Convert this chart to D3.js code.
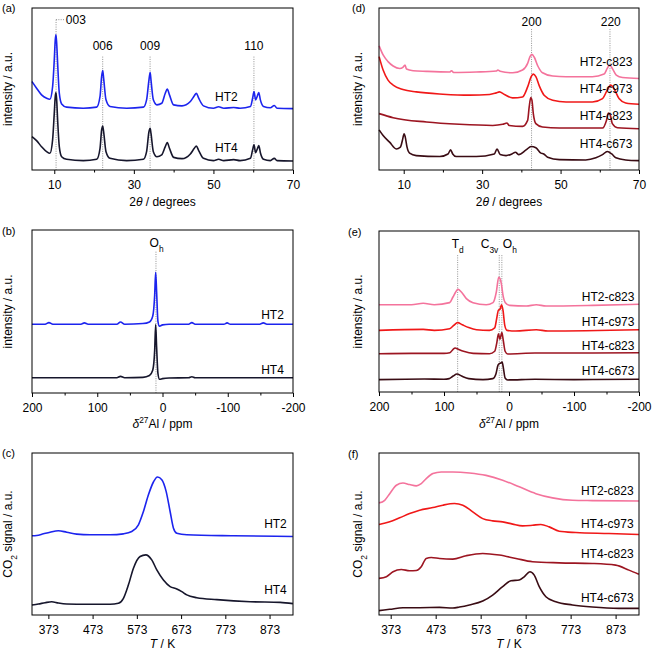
<!DOCTYPE html>
<html>
<head>
<meta charset="utf-8">
<script src="https://cdn.jsdelivr.net/npm/d3@7"></script>
<style>
body { margin: 0; background: #fff; }
text { font-family: "Liberation Sans", Arial, sans-serif; }
</style>
</head>
<body>
<svg id="fig" width="656" height="654"></svg>
<script>
// ---- data (y in arbitrary units, 0 = frame bottom, 100 = frame top)

// (a) XRD of the hydrotalcites, 2theta / degrees
var xrdHT2 = [[4.4,54.6],[5.55,50.5],[6.8,46.4],[8.07,44.3],[8.9,43.7],[9.58,51.5],[10.0,68.0],[10.25,80.4],[10.42,83.5],[10.6,78.4],[10.84,66.0],[11.26,47.4],[11.85,40.8],[13.1,38.8],[17.3,38.1],[20.66,38.8],[21.5,45.4],[21.9,57.7],[22.17,61.4],[22.4,56.7],[23.0,43.3],[24.0,39.2],[28.2,38.1],[32.4,38.8],[33.2,43.3],[33.8,55.7],[34.1,60.2],[34.3,55.7],[34.9,43.3],[35.8,40.2],[37.0,41.2],[37.9,47.4],[38.4,49.9],[38.95,46.4],[40.0,40.2],[42.1,39.6],[44.2,42.3],[45.2,45.8],[45.7,47.4],[46.3,44.3],[47.5,39.6],[50.0,38.1],[51.3,39.0],[52.6,38.1],[55.1,38.6],[56.7,38.1],[59.3,39.2],[59.85,44.3],[60.2,48.5],[60.6,43.3],[61.0,45.4],[61.4,47.8],[61.8,43.3],[62.6,39.2],[64.3,38.4],[65.3,39.8],[66.0,38.1],[70,37.9]];
var xrdHT4 = [[4.4,20.6],[5.55,18.1],[6.8,14.4],[8.07,11.3],[8.9,10.3],[9.58,18.6],[10.0,35.1],[10.25,45.4],[10.42,47.8],[10.6,43.3],[10.84,30.9],[11.26,14.4],[11.85,8.2],[13.1,6.6],[17.3,5.8],[20.66,6.6],[21.5,13.4],[21.9,24.7],[22.17,27.2],[22.4,23.7],[23.0,11.3],[24.0,7.2],[28.2,5.8],[32.4,6.6],[33.2,11.3],[33.8,23.7],[34.1,25.8],[34.3,22.7],[34.9,11.3],[35.8,8.2],[37.0,9.3],[37.9,14.4],[38.4,16.9],[38.95,13.4],[40.0,7.8],[42.1,7.0],[44.2,9.9],[45.2,13.4],[45.7,14.8],[46.3,12.0],[47.5,7.2],[50.0,5.8],[51.3,6.6],[52.6,5.8],[55.1,6.4],[56.7,5.8],[59.3,7.2],[59.85,12.4],[60.2,15.5],[60.6,10.7],[61.0,12.8],[61.4,15.1],[61.8,10.7],[62.6,6.6],[64.3,5.8],[65.3,7.2],[66.0,5.8],[70,5.6]];
var xrdRefl = ["003", "006", "009", "110"];
var xrdReflPos = [10.45, 22.17, 34.08, 60.18];

// (b) 27Al NMR of the hydrotalcites, ppm
var nmrHT2 = [[200,42.2],[180,42.2],[174,43.2],[168,42.2],[125,42.2],[119.7,43.0],[114,42.2],[70,42.2],[64.4,43.6],[58,42.2],[30,42.6],[20,43.6],[15,47.1],[12,60],[10.5,74.0],[9,62],[7,44],[4.6,41.0],[0,41.8],[-10,42.2],[-40,42.2],[-45,43.2],[-50,42.2],[-94,42.2],[-99,43.0],[-104,42.2],[-149,42.2],[-154.5,43.0],[-160,42.2],[-200,42.2]];
var nmrHT4 = [[200,9.4],[70,9.4],[64.4,10.2],[58,9.4],[30,9.6],[20,10.7],[15,13.9],[12,26],[10.5,42.0],[9,28],[7,12],[4.6,8.4],[0,8.8],[-10,9.2],[-40,9.4],[-45,10.0],[-50,9.4],[-200,9.4]];

// (c) CO2-TPD of the hydrotalcites, K
var tpdHT2 = [[336,48.9],[346.6,49.1],[361.7,50.1],[376.8,51.1],[395.6,52.0],[414.5,51.1],[437.1,49.9],[467.3,49.5],[512.5,49.5],[542.7,50.1],[561.5,51.5],[576.6,55.7],[587.9,63.9],[599.2,74.2],[610.5,82.1],[619.6,85.2],[629.4,83.5],[639.2,76.3],[648.2,63.9],[655.8,53.6],[663.3,50.5],[685.9,49.5],[791.5,48.9],[925.7,48.5]];
var tpdHT4 = [[336,6.2],[350.4,6.8],[365.5,7.6],[380.5,8.2],[395.6,7.4],[414.5,6.8],[459.7,6.6],[512.5,6.6],[531.3,7.2],[542.7,10.3],[554,18.6],[565.3,28.9],[580.4,36.1],[593.2,37.1],[606.7,34.0],[618.1,27.8],[633.1,21.6],[648.2,17.5],[663.3,16.1],[674.6,14.4],[685.9,12.4],[708.5,10.7],[753.8,9.5],[829.2,8.2],[897,7.8],[925.7,7.0]];

// (d) XRD of the calcined samples
var xrdC2_823 = [[3.73,76.6],[4.75,71.0],[6.0,66.9],[7.3,64.2],[9.0,62.7],[9.8,63.4],[10.34,64.8],[10.7,62.3],[12.4,61.3],[15.8,60.9],[21.7,60.5],[22.2,61.3],[22.7,60.2],[28.5,60.5],[33.6,61.1],[34.0,61.7],[34.6,60.9],[37.8,60.0],[40.3,61.7],[41.6,65.8],[42.2,70.0],[42.7,71.4],[43.3,69.6],[44.2,64.2],[45.4,60.0],[48.0,58.0],[51.4,57.6],[58.1,57.6],[61.1,59.2],[61.9,62.7],[62.5,64.8],[63.2,62.7],[64.2,58.6],[65.8,57.1],[70.0,56.5]];
var xrdC4_973 = [[3.73,70.0],[4.75,61.7],[6.0,55.5],[7.3,52.4],[9.8,49.7],[13.2,48.2],[20.0,46.8],[26.8,46.2],[31.9,46.6],[33.6,47.6],[34.4,48.2],[35.7,46.6],[37.8,44.5],[40.3,45.1],[41.6,51.3],[42.5,57.6],[43.05,59.2],[43.7,57.6],[44.6,51.8],[45.8,46.2],[48.0,43.1],[51.4,42.0],[58.1,42.0],[60.7,44.1],[61.9,49.3],[62.8,52.4],[63.6,50.3],[64.9,44.1],[66.6,41.4],[70.0,40.6]];
var xrdC4_823 = [[3.73,34.8],[7.3,32.3],[15.8,29.6],[24.2,28.2],[32.7,27.5],[35.25,28.2],[36.35,29.0],[36.9,27.5],[40.3,26.9],[41.6,30.6],[42.0,38.9],[42.4,44.7],[42.7,43.1],[43.05,34.8],[43.7,28.6],[45.4,26.5],[49.7,25.9],[60.7,25.9],[61.7,30.6],[62.2,35.2],[62.7,33.7],[63.2,28.6],[64.5,26.1],[70.0,25.5]];
var xrdC4_673 = [[3.73,24.8],[4.75,21.3],[6.4,17.2],[8.1,13.0],[9.15,14.1],[9.66,18.2],[10.1,22.4],[10.4,20.3],[10.85,14.1],[11.5,10.4],[13.2,8.9],[19.2,8.3],[21.3,9.9],[21.95,12.4],[22.5,9.9],[23.4,8.3],[28.5,8.3],[33.1,9.9],[33.8,13.0],[34.6,9.5],[36.1,8.9],[37.6,9.9],[38.5,11.0],[39.3,9.5],[41.2,12.4],[42.5,14.5],[43.7,13.7],[45.0,10.4],[45.7,9.9],[46.7,7.9],[49.7,6.4],[56.4,6.2],[59.0,7.5],[60.7,9.5],[61.9,11.4],[63.05,9.9],[64.1,7.5],[66.6,6.2],[70.0,5.8]];
var oxRefl = ["200", "220"];
var oxReflPos = [42.6, 62.6];

// (e) 27Al NMR of the calcined samples
var nmrC2_823 = [[200,54.2],[150,54.2],[132,55.1],[115,54.2],[91.3,55.5],[86.2,59.0],[82,62.1],[78.5,63.8],[73.3,62.1],[65.6,58.0],[55.4,55.5],[35,54.2],[24.6,55.5],[19.5,62.1],[15.9,71.2],[13.8,70.4],[11.8,67.3],[9.2,60.0],[5.6,55.5],[-1,53.8],[-26.7,53.4],[-42,54.2],[-57,53.4],[-129,53.8],[-200,54.5]];
var nmrC4_973 = [[200,38.3],[132,38.9],[115,38.3],[91.3,39.3],[85,41.4],[79,43.1],[72,41.8],[62,40.0],[50,38.7],[30,38.3],[22,39.8],[19,45.5],[16.4,50.7],[13.8,51.4],[11.5,54.2],[9.2,50.7],[6.5,41.4],[3,38.3],[-10,37.9],[-42,38.7],[-60,37.9],[-200,38.7]];
var nmrC4_823 = [[200,23.8],[150,24.0],[100,24.0],[91,24.4],[86,26.5],[83,27.3],[78,26.5],[70,25.3],[55,24.0],[30,23.8],[22,25.3],[19,30.0],[16.2,36.2],[14,32.7],[11,36.9],[8.8,32.1],[6,25.3],[2,23.6],[-40,24.2],[-100,24.2],[-200,24.4]];
var nmrC4_673 = [[200,7.7],[130,8.1],[100,7.9],[92,8.3],[86,9.9],[80,11.2],[73,9.9],[62,8.3],[40,7.7],[25,8.3],[20,11.4],[17,16.6],[15,17.6],[12.5,18.0],[10.5,18.6],[8.5,14.5],[6,8.7],[2,7.5],[-40,7.9],[-100,7.7],[-200,7.9]];
var alSites = ["Td", "C3v", "Oh"];
var alSitePos = [79, 15, 11];

// (f) CO2-TPD of the calcined samples
var tpdC2_823 = [[347.1,69.2],[359.7,70.8],[370.8,74.9],[385.6,80.1],[400.3,81.5],[415.1,80.5],[429.9,79.7],[440.9,81.1],[452,84.2],[466.8,87.3],[485.3,88.3],[511.1,88.3],[548,87.7],[585,86.2],[621.9,83.2],[658.8,79.1],[695.8,74.9],[732.7,72.3],[777,70.8],[821.3,70.6],[924.7,70.4]];
var tpdC4_973 = [[347.1,55.9],[370.8,57.5],[393,60.0],[415.1,62.6],[437.3,64.7],[466.8,66.3],[489,67.8],[514.8,68.8],[533.3,67.8],[555.4,63.7],[577.6,59.5],[599.7,58.1],[621.9,57.5],[644.1,56.1],[666.2,55.0],[688.4,55.4],[706.8,55.9],[725.3,54.4],[747.5,51.7],[784.4,50.9],[858.3,50.3],[924.7,49.7]];
var tpdC4_823 = [[347.1,22.6],[363.4,23.6],[378.2,26.7],[396.6,28.1],[415.1,27.3],[429.9,27.5],[440.9,29.8],[452,34.9],[463.1,35.5],[481.6,34.9],[511.1,34.5],[540.7,36.6],[577.6,38.0],[614.5,37.0],[651.5,34.9],[688.4,32.9],[747.5,32.2],[821.3,31.8],[873,30.8],[902.6,27.7],[924.7,25.1]];
var tpdC4_673 = [[347.1,2.7],[370.8,3.5],[400.3,4.5],[437.3,4.5],[481.6,4.7],[511.1,4.3],[525.9,4.9],[548,6.2],[577.6,8.6],[599.7,12.3],[621.9,17.5],[640.4,21.1],[658.8,21.6],[669.9,23.6],[682.5,26.7],[692.1,24.6],[703.2,17.5],[718,11.3],[740.1,8.2],[777,6.2],[821.3,4.9],[880.4,4.1],[924.7,4.1]];

// tick labels
var ticks2theta = [10, 30, 50, 70], minor2theta = [20, 40, 60];
var ticksPpm = [200, 100, 0, -100, -200], minorPpm = [150, 50, -50, -150];
var ticksT = [373, 473, 573, 673, 773, 873];

var cBlue = "#1c24ee", cBlack = "#16162c", cPink = "#f4739c", cRed = "#f01818", cDark = "#9c1521", cDeep = "#3a0c14";

var svg = d3.select("#fig");

// text with italic / sub / sup pieces
function rich(t, parts) {
    parts.forEach(function(p) {
        var s = t.append("tspan").text(p.t);
        if (p.i) s.attr("font-style", "italic");
        if (p.sub) s.attr("baseline-shift", "sub").attr("font-size", "0.7em");
        if (p.sup) s.attr("baseline-shift", "super").attr("font-size", "0.7em");
    });
    return t;
}

function drawPanel(p) {
    var g = svg.append("g");
    var x = d3.scaleLinear().domain(p.domain).range([p.x0, p.x1]);
    var y = d3.scaleLinear().domain([0, 100]).range([p.y1, p.y0]);

    // dotted guide lines
    (p.guides || []).forEach(function(d) {
        g.append("line")
            .attr("x1", x(d[0])).attr("x2", x(d[0]))
            .attr("y1", y(d[1])).attr("y2", p.y1)
            .attr("stroke", "#777").attr("stroke-width", 0.8)
            .attr("stroke-dasharray", "1,1.3");
    });

    var line = d3.line()
        .x(function(d) { return x(d[0]); })
        .y(function(d) { return y(d[1]); })
        .curve(d3.curveMonotoneX);

    p.series.forEach(function(s) {
        var pts = s.data.slice().sort(function(a, b) { return (x(a[0]) - x(b[0])); });
        g.append("path")
            .attr("d", line(pts))
            .attr("fill", "none")
            .attr("stroke", s.color)
            .attr("stroke-width", 1.6)
            .attr("stroke-linejoin", "round");
        g.append("text")
            .attr("x", x(s.lx)).attr("y", y(s.ly))
            .attr("text-anchor", "end")
            .attr("font-size", 12)
            .text(s.name);
    });

    (p.notes || []).forEach(function(n) {
        var t = g.append("text")
            .attr("x", x(n.x)).attr("y", y(n.y))
            .attr("text-anchor", n.anchor || "middle")
            .attr("font-size", 12);
        rich(t, n.parts);
    });

    // frame
    g.append("rect")
        .attr("x", p.x0).attr("y", p.y0)
        .attr("width", p.x1 - p.x0).attr("height", p.y1 - p.y0)
        .attr("fill", "none").attr("stroke", "#000").attr("stroke-width", 1);

    var ax = g.append("g")
        .attr("transform", "translate(0," + p.y1 + ")")
        .call(d3.axisBottom(x).tickValues(p.ticks).tickSize(4).tickPadding(6).tickSizeOuter(0)
            .tickFormat(function(d) { return String(d); }));
    ax.select(".domain").remove();
    ax.selectAll("text").attr("font-size", 12).attr("font-family", null).attr("fill", "#000");
    ax.selectAll("line").attr("stroke", "#000");
    if (p.minor) {
        var mx = g.append("g")
            .attr("transform", "translate(0," + p.y1 + ")")
            .call(d3.axisBottom(x).tickValues(p.minor).tickSize(2.5).tickFormat(""));
        mx.select(".domain").remove();
        mx.selectAll("line").attr("stroke", "#000");
    }

    rich(g.append("text")
        .attr("x", (p.x0 + p.x1) / 2).attr("y", p.titleY)
        .attr("text-anchor", "middle").attr("font-size", 12), p.xTitle);

    rich(g.append("text")
        .attr("transform", "translate(" + p.yTitleX + "," + ((p.y0 + p.y1) / 2) + ") rotate(-90)")
        .attr("text-anchor", "middle").attr("font-size", 12), p.yTitle);

    g.append("text")
        .attr("x", p.tagX).attr("y", p.tagY)
        .attr("font-size", 11)
        .text(p.tag);
}

var titleXRD = [{t: "2"}, {t: "\u03B8", i: true}, {t: " / degrees"}];
var titleNMR = [{t: "\u03B4", i: true}, {t: "27", sup: true}, {t: "Al / ppm"}];
var titleTPD = [{t: "T", i: true}, {t: " / K"}];
var yInt = [{t: "intensity / a.u."}];
var yCO2 = [{t: "CO"}, {t: "2", sub: true}, {t: " signal / a.u."}];

// (a)
drawPanel({
    tag: "(a)", tagX: 2, tagY: 12,
    x0: 32, x1: 293, y0: 8, y1: 170, domain: [4.4, 70],
    ticks: ticks2theta, minor: minor2theta,
    xTitle: titleXRD, titleY: 206, yTitle: yInt, yTitleX: 12,
    guides: xrdReflPos.map(function(v, i) { return [v, i === 0 ? 92.8 : 70]; }),
    series: [
        {name: "HT2", data: xrdHT2, color: cBlue, lx: 56.1, ly: 42.9},
        {name: "HT4", data: xrdHT4, color: cBlack, lx: 56.1, ly: 11.3}
    ],
    notes: [
        {x: 12.9, y: 90.3, anchor: "start", parts: [{t: xrdRefl[0]}]},
        {x: xrdReflPos[1], y: 74.2, parts: [{t: xrdRefl[1]}]},
        {x: xrdReflPos[2], y: 74.2, parts: [{t: xrdRefl[2]}]},
        {x: xrdReflPos[3], y: 74.2, parts: [{t: xrdRefl[3]}]}
    ]
});
// short horizontal leader to the 003 label
(function() {
    var x = d3.scaleLinear().domain([4.4, 70]).range([32, 293]);
    var y = d3.scaleLinear().domain([0, 100]).range([170, 8]);
    svg.append("line")
        .attr("x1", x(xrdReflPos[0])).attr("x2", x(12.5))
        .attr("y1", y(92.8)).attr("y2", y(92.8))
        .attr("stroke", "#777").attr("stroke-width", 0.8)
        .attr("stroke-dasharray", "1,1.3");
})();

// (b)
drawPanel({
    tag: "(b)", tagX: 2, tagY: 235,
    x0: 32, x1: 293, y0: 230, y1: 393, domain: [200, -200],
    ticks: ticksPpm, minor: minorPpm,
    xTitle: titleNMR, titleY: 428, yTitle: yInt, yTitleX: 12,
    guides: [[10, 86.7]],
    series: [
        {name: "HT2", data: nmrHT2, color: cBlue, lx: -186, ly: 45.5},
        {name: "HT4", data: nmrHT4, color: cBlack, lx: -186, ly: 11.9}
    ],
    notes: [{x: 9, y: 89.8, parts: [{t: "O"}, {t: "h", sub: true}]}]
});

// (c)
drawPanel({
    tag: "(c)", tagX: 2, tagY: 457,
    x0: 32, x1: 293, y0: 453, y1: 615, domain: [336, 926],
    ticks: ticksT,
    xTitle: titleTPD, titleY: 648, yTitle: yCO2, yTitleX: 12,
    series: [
        {name: "HT2", data: tpdHT2, color: cBlue, lx: 912, ly: 53.6},
        {name: "HT4", data: tpdHT4, color: cBlack, lx: 912, ly: 12.8}
    ]
});

// (d)
drawPanel({
    tag: "(d)", tagX: 352, tagY: 12,
    x0: 379, x1: 639, y0: 8, y1: 170, domain: [3.7, 70],
    ticks: ticks2theta, minor: minor2theta,
    xTitle: titleXRD, titleY: 206, yTitle: yInt, yTitleX: 362,
    guides: oxReflPos.map(function(v) { return [v, 87]; }),
    series: [
        {name: "HT2-c823", data: xrdC2_823, color: cPink, lx: 68.3, ly: 64.2},
        {name: "HT4-c973", data: xrdC4_973, color: cRed, lx: 68.3, ly: 47.8},
        {name: "HT4-c823", data: xrdC4_823, color: cDark, lx: 68.3, ly: 30.6},
        {name: "HT4-c673", data: xrdC4_673, color: cDeep, lx: 68.3, ly: 13.5}
    ],
    notes: [
        {x: oxReflPos[0], y: 89, parts: [{t: oxRefl[0]}]},
        {x: oxReflPos[1] + 0.2, y: 89, parts: [{t: oxRefl[1]}]}
    ]
});

// (e)
drawPanel({
    tag: "(e)", tagX: 348, tagY: 236,
    x0: 379, x1: 639, y0: 231, y1: 392, domain: [200, -200],
    ticks: ticksPpm, minor: minorPpm,
    xTitle: titleNMR, titleY: 428, yTitle: yInt, yTitleX: 362,
    guides: alSitePos.map(function(v) { return [v, 85]; }),
    series: [
        {name: "HT2-c823", data: nmrC2_823, color: cPink, lx: -193, ly: 56.3},
        {name: "HT4-c973", data: nmrC4_973, color: cRed, lx: -193, ly: 41.0},
        {name: "HT4-c823", data: nmrC4_823, color: cDark, lx: -193, ly: 25.9},
        {name: "HT4-c673", data: nmrC4_673, color: cDeep, lx: -193, ly: 10.4}
    ],
    notes: [
        {x: alSitePos[0], y: 89.3, parts: [{t: "T"}, {t: "d", sub: true}]},
        {x: 16.5, y: 89.3, anchor: "end", parts: [{t: "C"}, {t: "3v", sub: true}]},
        {x: 9.5, y: 89.3, anchor: "start", parts: [{t: "O"}, {t: "h", sub: true}]}
    ]
});

// (f)
drawPanel({
    tag: "(f)", tagX: 348, tagY: 458,
    x0: 379, x1: 639, y0: 453, y1: 615, domain: [347, 925],
    ticks: ticksT,
    xTitle: titleTPD, titleY: 648, yTitle: yCO2, yTitleX: 362,
    series: [
        {name: "HT2-c823", data: tpdC2_823, color: cPink, lx: 913, ly: 73.9},
        {name: "HT4-c973", data: tpdC4_973, color: cRed, lx: 913, ly: 53.4},
        {name: "HT4-c823", data: tpdC4_823, color: cDark, lx: 913, ly: 34.9},
        {name: "HT4-c673", data: tpdC4_673, color: cDeep, lx: 913, ly: 8.2}
    ]
});
</script>
</body>
</html>
